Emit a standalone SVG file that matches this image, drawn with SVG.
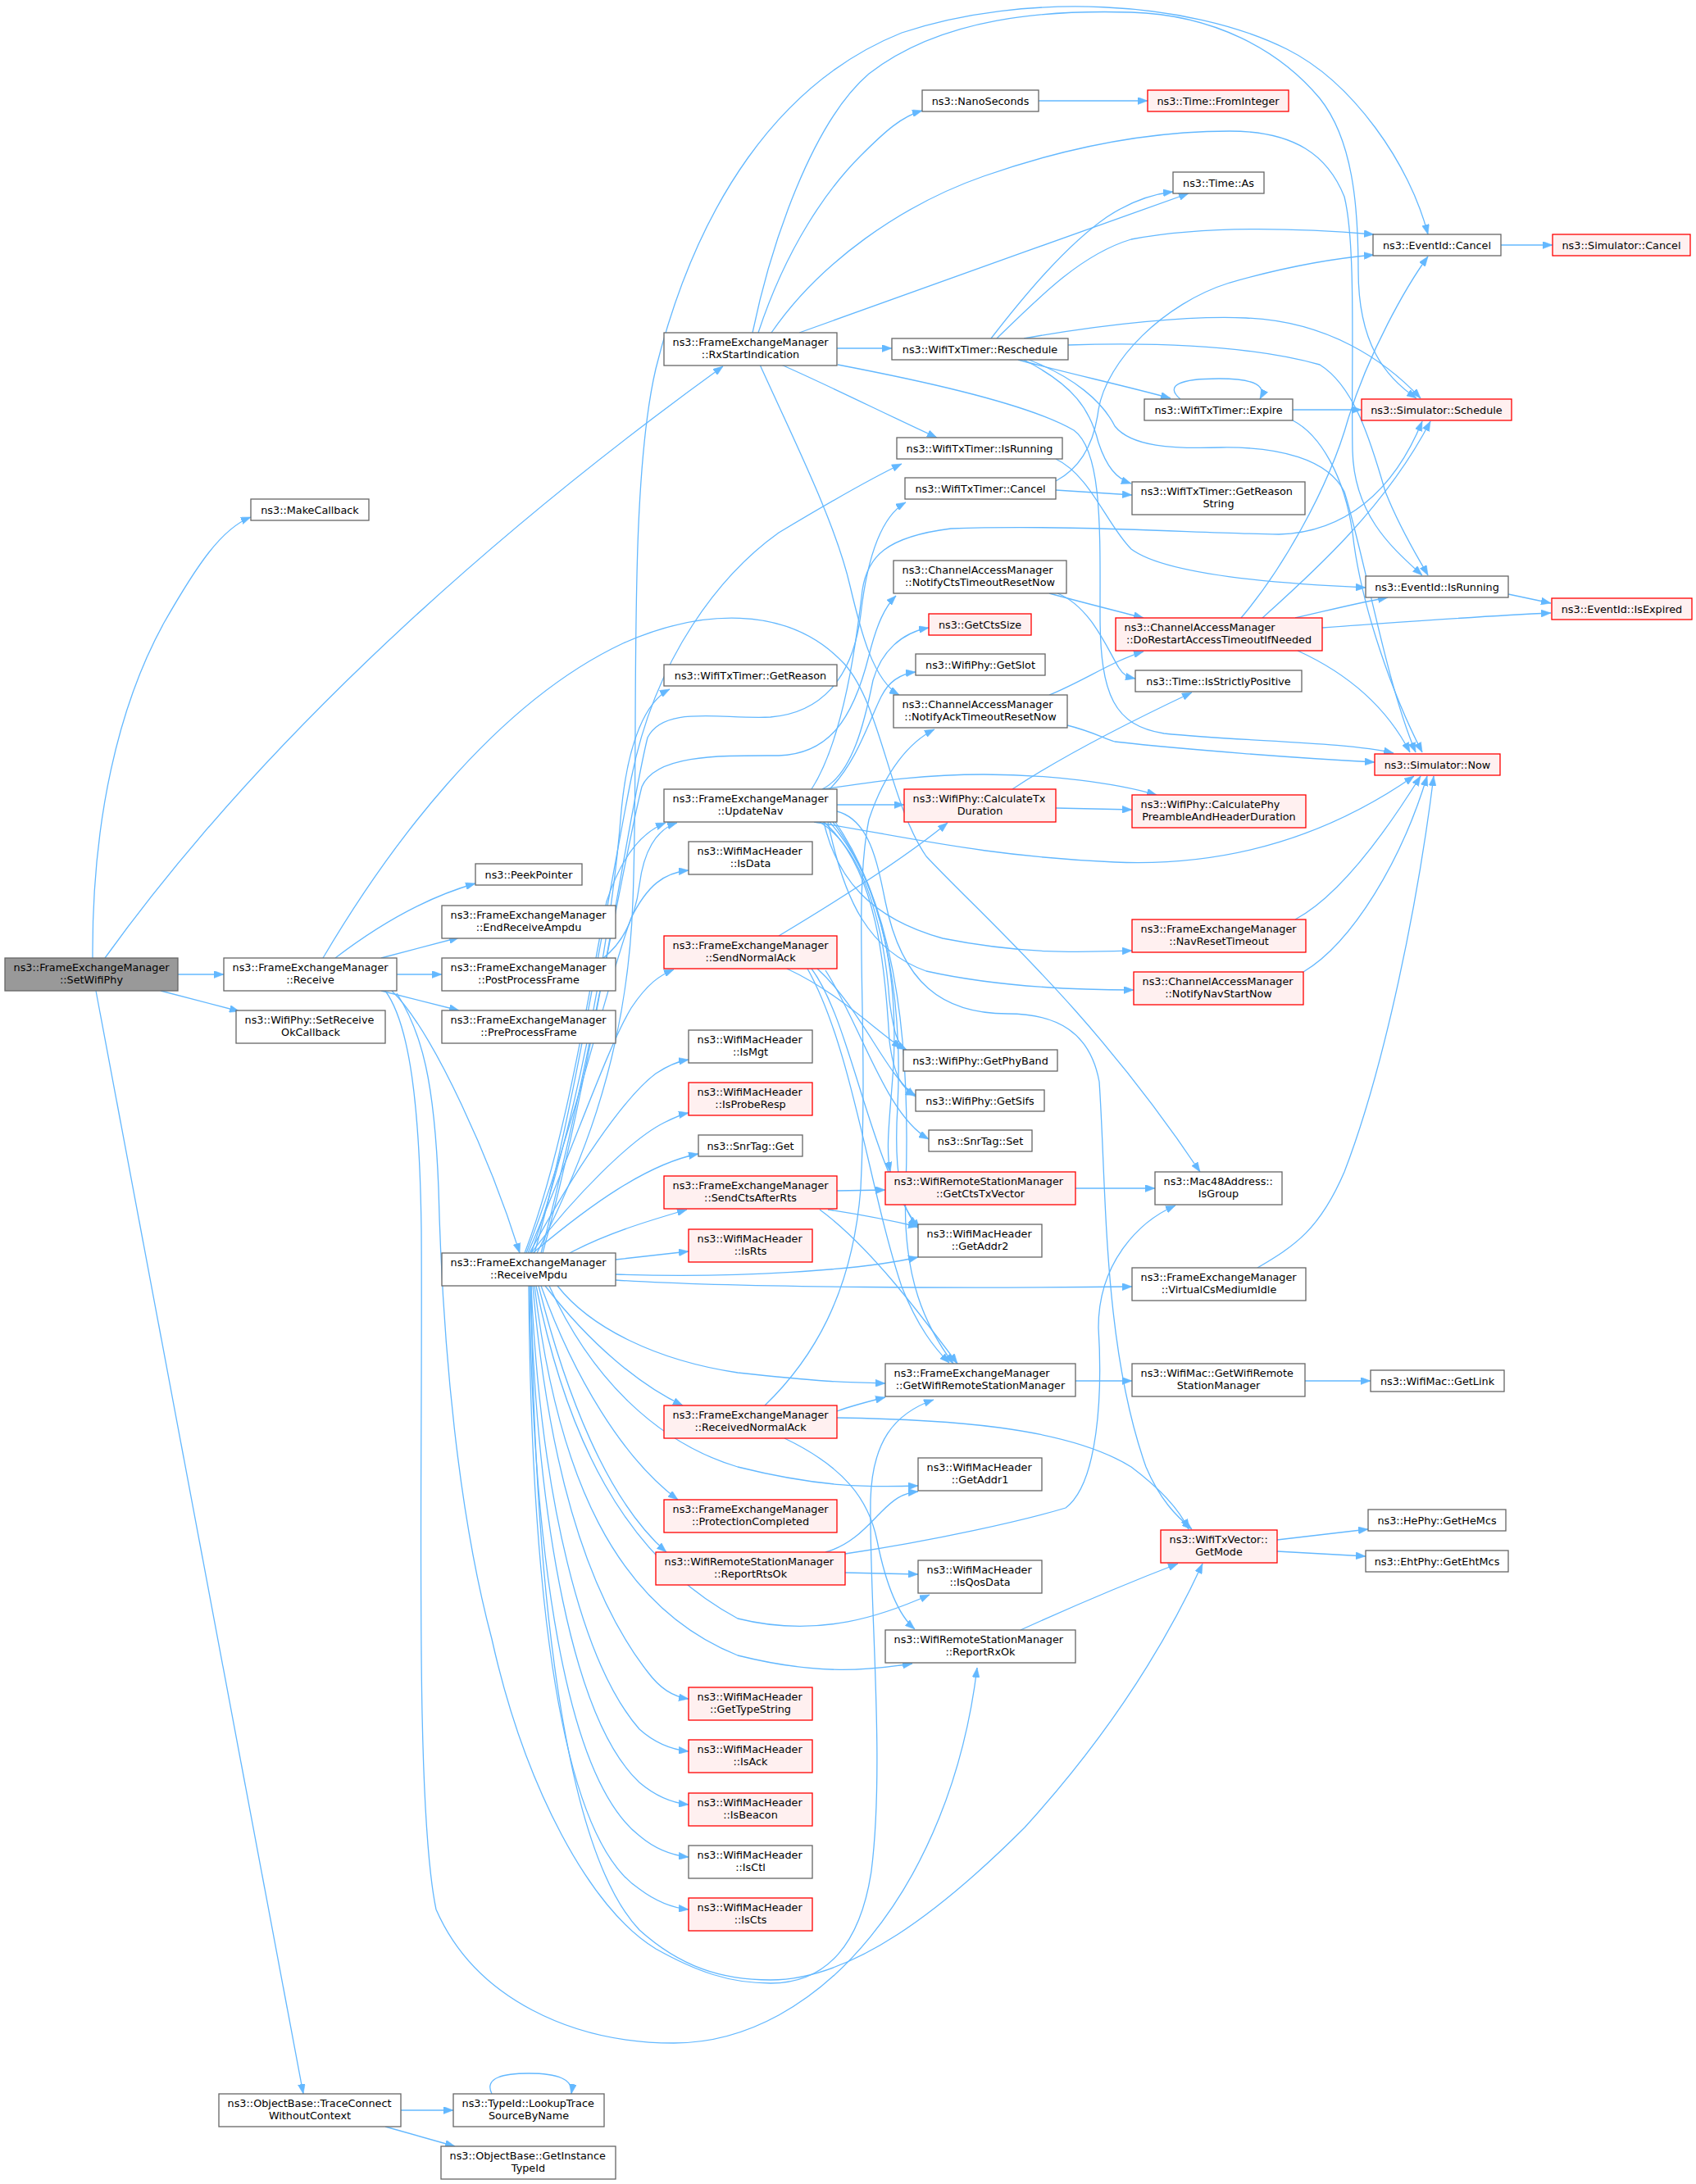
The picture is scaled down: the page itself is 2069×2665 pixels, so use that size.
<svg xmlns="http://www.w3.org/2000/svg" width="2069" height="2665" viewBox="0 0 2069 2665">
<defs>
<style>
.node rect{fill:#ffffff;stroke:#666666;stroke-width:1.3}
.red rect{fill:#FFF0F0;stroke:#FF0000}
.root rect{fill:#999999;stroke:#666666}
.node text{font-family:"DejaVu Sans","Liberation Sans",sans-serif;font-size:12.8px;fill:#000000}
.s{text-anchor:start}
.m{text-anchor:middle}
#edges path{fill:none;stroke:#63B8FF;stroke-width:1.3;marker-end:url(#arr)}
</style>
<marker id="arr" viewBox="0 0 12 9" refX="12" refY="4.5" markerWidth="12" markerHeight="9" markerUnits="userSpaceOnUse" orient="auto">
<path d="M0,0 L12,4.5 L0,9 z" fill="#63B8FF" stroke="#63B8FF" stroke-width="0.5"/>
</marker>
</defs>
<rect x="0" y="0" width="2069" height="2665" fill="#ffffff"/>
<g id="edges">
<path d="M113,1169 C112,1000 145,860 200,760 C240,690 270,645 306,631"/>
<path d="M128,1169 C300,930 560,680 882,447"/>
<path d="M217,1189 L273,1189"/>
<path d="M196,1209 L292,1234"/>
<path d="M117,1209 L370,2555"/>
<path d="M409,1169 C460,1130 520,1095 580,1078"/>
<path d="M465,1169 L560,1144"/>
<path d="M484,1189 L539,1189"/>
<path d="M465,1209 L560,1233"/>
<path d="M478,1209 C530,1260 600,1420 634,1529"/>
<path d="M394,1169 C470,1040 600,860 760,785 C850,745 960,735 1030,810 C1075,860 1085,980 1130,1045 C1200,1120 1330,1230 1464,1430"/>
<path d="M470,1209 C500,1250 512,1350 514,1500 C516,1800 505,2200 532,2330 C580,2440 700,2493 822,2493 C1000,2493 1160,2300 1192,2035"/>
<path d="M484,1212 C515,1260 530,1320 535,1450 C540,1650 560,1850 600,2000 C640,2180 720,2330 800,2378 C850,2406 890,2420 940,2420 C1010,2420 1050,2370 1063,2283 C1080,2150 1060,1950 1062,1830 C1064,1760 1090,1725 1139,1708"/>
<path d="M648,1569 C652,1950 690,2260 780,2355 C830,2400 880,2416 940,2416 C1040,2416 1150,2330 1250,2230 C1350,2120 1420,2010 1467,1908"/>
<path d="M925,406 C960,300 1010,230 1050,190 C1080,160 1100,142 1125,135"/>
<path d="M918,406 C940,300 990,150 1060,90 C1150,20 1280,12 1380,15 C1480,18 1560,60 1610,120 C1650,170 1657,250 1657,330 C1657,420 1690,460 1728,486"/>
<path d="M941,406 C1000,320 1100,250 1200,215 C1300,180 1400,160 1500,160 C1580,160 1620,190 1640,240 C1655,300 1648,450 1650,550 C1652,630 1700,670 1735,702"/>
<path d="M975,406 C1100,360 1300,290 1450,236"/>
<path d="M1021,425 L1088,425"/>
<path d="M953,445 C1010,470 1080,505 1143,534"/>
<path d="M927,445 C970,540 1020,640 1037,715 C1050,770 1065,830 1097,848"/>
<path d="M1022,445 C1100,460 1250,490 1310,525 C1345,550 1342,650 1342,750 C1342,850 1360,885 1420,895 C1520,905 1640,905 1700,919"/>
<path d="M1209,413 C1250,360 1300,300 1350,265 C1380,245 1405,237 1431,234"/>
<path d="M1216,413 C1270,360 1320,310 1380,292 C1470,275 1580,278 1676,286"/>
<path d="M1249,413 C1350,395 1450,385 1520,388 C1620,392 1690,440 1733,486"/>
<path d="M1303,421 C1400,418 1520,420 1610,445 C1650,470 1670,530 1690,600 C1710,650 1730,680 1742,702"/>
<path d="M1242,439 C1300,455 1370,470 1428,486"/>
<path d="M1249,439 C1310,470 1330,500 1340,540 C1350,570 1362,584 1380,590"/>
<path d="M1255,439 C1310,460 1345,490 1360,520 C1380,545 1430,548 1490,546 C1560,545 1620,560 1640,600 C1665,680 1690,830 1727,918"/>
<path d="M1440,487 C1420,470 1440,462 1487,462 C1534,462 1545,472 1537,487"/>
<path d="M1577,500 L1661,500"/>
<path d="M1577,513 C1610,530 1640,580 1650,650 C1660,740 1700,850 1735,918"/>
<path d="M1831,299 L1894,299"/>
<path d="M1840,725 L1892,736"/>
<path d="M1267,123 L1400,123"/>
<path d="M1288,560 C1330,580 1350,640 1380,670 C1420,700 1550,712 1666,717"/>
<path d="M1288,598 L1381,604"/>
<path d="M1288,587 C1320,570 1335,540 1340,500 C1350,440 1420,370 1500,345 C1570,325 1630,315 1676,311"/>
<path d="M1280,724 C1320,735 1360,745 1395,754"/>
<path d="M1290,724 C1330,740 1350,790 1365,815 C1370,823 1375,826 1385,828"/>
<path d="M1280,848 C1320,832 1360,805 1395,795"/>
<path d="M1302,885 C1330,892 1345,900 1360,905 C1450,915 1580,925 1677,930"/>
<path d="M1514,754 C1560,700 1620,600 1645,510 C1670,430 1715,350 1742,313"/>
<path d="M1540,754 C1600,700 1690,620 1745,514"/>
<path d="M1580,754 C1620,745 1650,737 1693,729"/>
<path d="M1613,766 C1700,760 1800,752 1892,748"/>
<path d="M1583,794 C1640,820 1690,860 1720,918"/>
<path d="M1235,963 C1300,920 1380,880 1454,845"/>
<path d="M1288,986 L1381,988"/>
<path d="M1021,982 L1103,982"/>
<path d="M1003,963 C1060,955 1120,945 1200,945 C1280,945 1360,955 1411,970"/>
<path d="M993,1003 C1100,1020 1200,1045 1360,1052 C1500,1058 1620,1020 1725,947"/>
<path d="M1005,1003 C1020,1070 1060,1120 1150,1145 C1250,1165 1320,1162 1381,1160"/>
<path d="M1010,1003 C1030,1100 1060,1160 1130,1185 C1220,1205 1320,1208 1383,1208"/>
<path d="M1003,963 C1040,945 1055,880 1065,830 C1075,795 1100,772 1133,766"/>
<path d="M1012,963 C1045,930 1060,880 1075,850 C1085,830 1100,822 1117,820"/>
<path d="M990,963 C1030,900 1045,780 1052,720 C1058,680 1080,655 1160,645 C1300,640 1450,650 1560,652 C1640,650 1700,600 1735,514"/>
<path d="M1000,1003 C1060,1040 1080,1150 1085,1220 C1090,1260 1095,1275 1106,1281"/>
<path d="M1005,1003 C1070,1060 1080,1180 1085,1270 C1090,1310 1100,1330 1117,1336"/>
<path d="M1012,1003 C1080,1080 1095,1200 1090,1300 C1086,1360 1080,1400 1086,1430"/>
<path d="M1016,1003 C1090,1100 1100,1250 1095,1350 C1090,1430 1100,1480 1120,1496"/>
<path d="M1019,1003 C1100,1120 1110,1300 1105,1450 C1100,1560 1130,1620 1163,1664"/>
<path d="M1021,990 C1060,1000 1070,1050 1080,1100 C1100,1200 1150,1237 1229,1237 C1290,1237 1330,1260 1341,1320 C1350,1450 1345,1640 1398,1790 C1415,1830 1435,1850 1454,1866"/>
<path d="M655,1529 C700,1440 765,1300 772,1100 C780,900 765,600 800,450 C850,250 950,100 1100,40 C1250,-10 1450,0 1570,60 C1650,100 1720,200 1742,286"/>
<path d="M648,1529 C700,1380 745,1150 757,1000 C765,900 790,855 817,841"/>
<path d="M652,1529 C700,1360 740,1100 770,950 C800,800 880,700 950,650 C1000,620 1060,585 1100,566"/>
<path d="M660,1529 C720,1300 760,1050 783,960 C800,920 880,922 950,922 C1010,920 1040,880 1060,800 C1070,760 1080,740 1093,727"/>
<path d="M662,1529 C725,1300 765,1000 790,900 C810,860 880,878 940,875 C1000,870 1040,830 1050,750 C1058,680 1075,630 1105,613"/>
<path d="M640,1529 C690,1400 720,1200 740,1100 C760,1040 785,1015 812,1004"/>
<path d="M736,1169 C760,1150 775,1120 780,1080 C785,1040 800,1012 826,1004"/>
<path d="M642,1529 C700,1380 740,1200 770,1120 C790,1080 810,1065 840,1062"/>
<path d="M644,1529 C700,1400 740,1280 770,1230 C790,1200 805,1190 822,1183"/>
<path d="M646,1529 C700,1430 760,1340 800,1310 C815,1300 828,1295 840,1293"/>
<path d="M648,1529 C700,1460 770,1390 810,1370 C820,1365 830,1360 840,1358"/>
<path d="M650,1529 C720,1470 790,1420 852,1408"/>
<path d="M695,1529 C740,1505 790,1490 838,1476"/>
<path d="M751,1537 L840,1527"/>
<path d="M751,1555 C900,1560 1050,1550 1120,1534"/>
<path d="M751,1562 C900,1572 1200,1572 1381,1570"/>
<path d="M680,1569 C720,1620 800,1660 900,1675 C1000,1686 1030,1687 1080,1688"/>
<path d="M665,1569 C720,1640 780,1690 833,1715"/>
<path d="M660,1569 C700,1680 760,1780 827,1830"/>
<path d="M657,1569 C690,1700 740,1830 813,1894"/>
<path d="M670,1569 C720,1680 800,1760 900,1790 C1000,1815 1060,1815 1120,1813"/>
<path d="M654,1569 C690,1750 760,1900 900,1975 C1000,2000 1080,1970 1134,1946"/>
<path d="M652,1569 C680,1800 750,1960 900,2020 C1000,2045 1060,2038 1113,2030"/>
<path d="M650,1569 C670,1800 720,1950 790,2040 C805,2060 820,2070 840,2073"/>
<path d="M648,1569 C660,1830 710,2030 780,2110 C800,2128 820,2135 840,2137"/>
<path d="M647,1569 C655,1860 700,2100 780,2175 C800,2192 820,2200 840,2202"/>
<path d="M646,1569 C650,1900 690,2170 780,2240 C800,2257 820,2264 840,2266"/>
<path d="M645,1569 C648,1930 680,2240 780,2305 C800,2320 820,2328 840,2330"/>
<path d="M950,1142 C1020,1100 1100,1050 1156,1004"/>
<path d="M960,1182 C1020,1210 1060,1250 1100,1279"/>
<path d="M997,1182 C1050,1230 1080,1310 1117,1338"/>
<path d="M1007,1184 C1050,1250 1080,1360 1133,1390"/>
<path d="M990,1182 C1040,1250 1060,1420 1122,1500"/>
<path d="M985,1182 C1040,1280 1060,1450 1100,1570 C1120,1620 1140,1645 1158,1663"/>
<path d="M1021,1453 L1080,1452"/>
<path d="M1010,1476 C1050,1482 1090,1490 1120,1497"/>
<path d="M1000,1476 C1060,1520 1120,1600 1168,1664"/>
<path d="M933,1715 C990,1660 1040,1580 1050,1450 C1060,1250 1040,1100 1060,1000 C1080,940 1110,905 1140,890"/>
<path d="M1021,1722 C1040,1715 1060,1710 1080,1705"/>
<path d="M1021,1730 C1150,1732 1300,1740 1380,1790 C1420,1820 1440,1845 1450,1866"/>
<path d="M957,1755 C1030,1790 1060,1830 1070,1880 C1080,1930 1095,1970 1116,1988"/>
<path d="M1007,1894 C1040,1885 1060,1860 1075,1845 C1090,1830 1100,1822 1120,1820"/>
<path d="M1031,1919 L1120,1921"/>
<path d="M1031,1896 C1140,1880 1250,1855 1300,1840 C1340,1810 1345,1700 1340,1620 C1340,1540 1390,1490 1434,1471"/>
<path d="M1312,1450 L1409,1450"/>
<path d="M1312,1685 L1381,1685"/>
<path d="M1592,1685 L1672,1685"/>
<path d="M1558,1879 L1669,1866"/>
<path d="M1558,1893 L1666,1899"/>
<path d="M1245,1989 C1320,1955 1380,1930 1437,1908"/>
<path d="M1534,1547 C1580,1520 1610,1500 1640,1430 C1690,1300 1730,1100 1749,947"/>
<path d="M1580,1122 C1640,1090 1700,1000 1733,947"/>
<path d="M1590,1186 C1650,1150 1710,1050 1741,947"/>
<path d="M489,2575 L553,2575"/>
<path d="M470,2595 L555,2619"/>
<path d="M600,2555 C590,2535 615,2530 645,2530 C680,2530 700,2537 697,2555"/>
</g>
<g id="n_setwifiphy" class="node root"><rect x="6" y="1169" width="211" height="40"/><text class="s" x="16.6" y="1185">ns3::FrameExchangeManager</text><text class="m" x="111.5" y="1200">::SetWifiPhy</text></g>
<g id="n_makecallback" class="node"><rect x="306" y="609" width="144" height="26"/><text class="m" x="378" y="626.5">ns3::MakeCallback</text></g>
<g id="n_receive" class="node"><rect x="273" y="1169" width="211" height="40"/><text class="s" x="283.6" y="1185">ns3::FrameExchangeManager</text><text class="m" x="378.5" y="1200">::Receive</text></g>
<g id="n_setreceiveok" class="node"><rect x="288" y="1233" width="182" height="40"/><text class="s" x="298.6" y="1249">ns3::WifiPhy::SetReceive</text><text class="m" x="379" y="1264">OkCallback</text></g>
<g id="n_traceconnect" class="node"><rect x="267" y="2555" width="222" height="40"/><text class="s" x="277.6" y="2571">ns3::ObjectBase::TraceConnect</text><text class="m" x="378" y="2586">WithoutContext</text></g>
<g id="n_peekpointer" class="node"><rect x="580" y="1054" width="130" height="26"/><text class="m" x="645" y="1071.5">ns3::PeekPointer</text></g>
<g id="n_endreceiveampdu" class="node"><rect x="539" y="1105" width="212" height="40"/><text class="s" x="549.6" y="1121">ns3::FrameExchangeManager</text><text class="m" x="645" y="1136">::EndReceiveAmpdu</text></g>
<g id="n_postprocessframe" class="node"><rect x="539" y="1169" width="212" height="40"/><text class="s" x="549.6" y="1185">ns3::FrameExchangeManager</text><text class="m" x="645" y="1200">::PostProcessFrame</text></g>
<g id="n_preprocessframe" class="node"><rect x="539" y="1233" width="212" height="40"/><text class="s" x="549.6" y="1249">ns3::FrameExchangeManager</text><text class="m" x="645" y="1264">::PreProcessFrame</text></g>
<g id="n_receivempdu" class="node"><rect x="539" y="1529" width="212" height="40"/><text class="s" x="549.6" y="1545">ns3::FrameExchangeManager</text><text class="m" x="645" y="1560">::ReceiveMpdu</text></g>
<g id="n_lookuptrace" class="node"><rect x="553" y="2555" width="184" height="40"/><text class="s" x="563.6" y="2571">ns3::TypeId::LookupTrace</text><text class="m" x="645" y="2586">SourceByName</text></g>
<g id="n_getinstancetypeid" class="node"><rect x="538" y="2619" width="213" height="40"/><text class="s" x="548.6" y="2635">ns3::ObjectBase::GetInstance</text><text class="m" x="644.5" y="2650">TypeId</text></g>
<g id="n_rxstartindication" class="node"><rect x="810" y="406" width="211" height="40"/><text class="s" x="820.6" y="422">ns3::FrameExchangeManager</text><text class="m" x="915.5" y="437">::RxStartIndication</text></g>
<g id="n_getreason" class="node"><rect x="810" y="811" width="211" height="26"/><text class="m" x="915.5" y="828.5">ns3::WifiTxTimer::GetReason</text></g>
<g id="n_updatenav" class="node"><rect x="810" y="963" width="211" height="40"/><text class="s" x="820.6" y="979">ns3::FrameExchangeManager</text><text class="m" x="915.5" y="994">::UpdateNav</text></g>
<g id="n_isdata" class="node"><rect x="840" y="1027" width="151" height="40"/><text class="s" x="850.6" y="1043">ns3::WifiMacHeader</text><text class="m" x="915.5" y="1058">::IsData</text></g>
<g id="n_sendnormalack" class="node red"><rect x="810" y="1142" width="211" height="40"/><text class="s" x="820.6" y="1158">ns3::FrameExchangeManager</text><text class="m" x="915.5" y="1173">::SendNormalAck</text></g>
<g id="n_ismgt" class="node"><rect x="840" y="1257" width="151" height="40"/><text class="s" x="850.6" y="1273">ns3::WifiMacHeader</text><text class="m" x="915.5" y="1288">::IsMgt</text></g>
<g id="n_isproberesp" class="node red"><rect x="840" y="1321" width="151" height="40"/><text class="s" x="850.6" y="1337">ns3::WifiMacHeader</text><text class="m" x="915.5" y="1352">::IsProbeResp</text></g>
<g id="n_snrtagget" class="node"><rect x="852" y="1385" width="127" height="26"/><text class="m" x="915.5" y="1402.5">ns3::SnrTag::Get</text></g>
<g id="n_sendctsafterrts" class="node red"><rect x="810" y="1435" width="211" height="40"/><text class="s" x="820.6" y="1451">ns3::FrameExchangeManager</text><text class="m" x="915.5" y="1466">::SendCtsAfterRts</text></g>
<g id="n_isrts" class="node red"><rect x="840" y="1500" width="151" height="40"/><text class="s" x="850.6" y="1516">ns3::WifiMacHeader</text><text class="m" x="915.5" y="1531">::IsRts</text></g>
<g id="n_receivednormalack" class="node red"><rect x="810" y="1715" width="211" height="40"/><text class="s" x="820.6" y="1731">ns3::FrameExchangeManager</text><text class="m" x="915.5" y="1746">::ReceivedNormalAck</text></g>
<g id="n_protectioncompleted" class="node red"><rect x="810" y="1830" width="211" height="40"/><text class="s" x="820.6" y="1846">ns3::FrameExchangeManager</text><text class="m" x="915.5" y="1861">::ProtectionCompleted</text></g>
<g id="n_reportrtsok" class="node red"><rect x="800" y="1894" width="231" height="40"/><text class="s" x="810.6" y="1910">ns3::WifiRemoteStationManager</text><text class="m" x="915.5" y="1925">::ReportRtsOk</text></g>
<g id="n_gettypestring" class="node red"><rect x="840" y="2059" width="151" height="40"/><text class="s" x="850.6" y="2075">ns3::WifiMacHeader</text><text class="m" x="915.5" y="2090">::GetTypeString</text></g>
<g id="n_isack" class="node red"><rect x="840" y="2123" width="151" height="40"/><text class="s" x="850.6" y="2139">ns3::WifiMacHeader</text><text class="m" x="915.5" y="2154">::IsAck</text></g>
<g id="n_isbeacon" class="node red"><rect x="840" y="2188" width="151" height="40"/><text class="s" x="850.6" y="2204">ns3::WifiMacHeader</text><text class="m" x="915.5" y="2219">::IsBeacon</text></g>
<g id="n_isctl" class="node"><rect x="840" y="2252" width="151" height="40"/><text class="s" x="850.6" y="2268">ns3::WifiMacHeader</text><text class="m" x="915.5" y="2283">::IsCtl</text></g>
<g id="n_iscts" class="node red"><rect x="840" y="2316" width="151" height="40"/><text class="s" x="850.6" y="2332">ns3::WifiMacHeader</text><text class="m" x="915.5" y="2347">::IsCts</text></g>
<g id="n_nanoseconds" class="node"><rect x="1125" y="110" width="142" height="26"/><text class="m" x="1196" y="127.5">ns3::NanoSeconds</text></g>
<g id="n_reschedule" class="node"><rect x="1088" y="413" width="215" height="26"/><text class="m" x="1195.5" y="430.5">ns3::WifiTxTimer::Reschedule</text></g>
<g id="n_timerisrunning" class="node"><rect x="1094" y="534" width="202" height="26"/><text class="m" x="1195" y="551.5">ns3::WifiTxTimer::IsRunning</text></g>
<g id="n_timercancel" class="node"><rect x="1104" y="583" width="184" height="26"/><text class="m" x="1196" y="600.5">ns3::WifiTxTimer::Cancel</text></g>
<g id="n_notifycts" class="node"><rect x="1090" y="684" width="211" height="40"/><text class="s" x="1100.6" y="700">ns3::ChannelAccessManager</text><text class="m" x="1195.5" y="715">::NotifyCtsTimeoutResetNow</text></g>
<g id="n_getctssize" class="node red"><rect x="1133" y="749" width="125" height="26"/><text class="m" x="1195.5" y="766.5">ns3::GetCtsSize</text></g>
<g id="n_getslot" class="node"><rect x="1117" y="798" width="158" height="26"/><text class="m" x="1196" y="815.5">ns3::WifiPhy::GetSlot</text></g>
<g id="n_notifyack" class="node"><rect x="1090" y="848" width="212" height="40"/><text class="s" x="1100.6" y="864">ns3::ChannelAccessManager</text><text class="m" x="1196" y="879">::NotifyAckTimeoutResetNow</text></g>
<g id="n_calctxduration" class="node red"><rect x="1103" y="963" width="185" height="40"/><text class="s" x="1113.6" y="979">ns3::WifiPhy::CalculateTx</text><text class="m" x="1195.5" y="994">Duration</text></g>
<g id="n_getphyband" class="node"><rect x="1102" y="1281" width="188" height="26"/><text class="m" x="1196" y="1298.5">ns3::WifiPhy::GetPhyBand</text></g>
<g id="n_getsifs" class="node"><rect x="1117" y="1330" width="157" height="26"/><text class="m" x="1195.5" y="1347.5">ns3::WifiPhy::GetSifs</text></g>
<g id="n_snrtagset" class="node"><rect x="1133" y="1379" width="126" height="26"/><text class="m" x="1196" y="1396.5">ns3::SnrTag::Set</text></g>
<g id="n_getctstxvector" class="node red"><rect x="1080" y="1430" width="232" height="40"/><text class="s" x="1090.6" y="1446">ns3::WifiRemoteStationManager</text><text class="m" x="1196" y="1461">::GetCtsTxVector</text></g>
<g id="n_getaddr2" class="node"><rect x="1120" y="1494" width="151" height="40"/><text class="s" x="1130.6" y="1510">ns3::WifiMacHeader</text><text class="m" x="1195.5" y="1525">::GetAddr2</text></g>
<g id="n_getwifirsm" class="node"><rect x="1080" y="1664" width="232" height="40"/><text class="s" x="1090.6" y="1680">ns3::FrameExchangeManager</text><text class="m" x="1196" y="1695">::GetWifiRemoteStationManager</text></g>
<g id="n_getaddr1" class="node"><rect x="1120" y="1779" width="151" height="40"/><text class="s" x="1130.6" y="1795">ns3::WifiMacHeader</text><text class="m" x="1195.5" y="1810">::GetAddr1</text></g>
<g id="n_isqosdata" class="node"><rect x="1120" y="1904" width="151" height="40"/><text class="s" x="1130.6" y="1920">ns3::WifiMacHeader</text><text class="m" x="1195.5" y="1935">::IsQosData</text></g>
<g id="n_reportrxok" class="node"><rect x="1080" y="1989" width="232" height="40"/><text class="s" x="1090.6" y="2005">ns3::WifiRemoteStationManager</text><text class="m" x="1196" y="2020">::ReportRxOk</text></g>
<g id="n_frominteger" class="node red"><rect x="1400" y="110" width="172" height="26"/><text class="m" x="1486" y="127.5">ns3::Time::FromInteger</text></g>
<g id="n_timeas" class="node"><rect x="1431" y="210" width="111" height="26"/><text class="m" x="1486.5" y="227.5">ns3::Time::As</text></g>
<g id="n_expire" class="node"><rect x="1396" y="487" width="181" height="26"/><text class="m" x="1486.5" y="504.5">ns3::WifiTxTimer::Expire</text></g>
<g id="n_getreasonstring" class="node"><rect x="1381" y="588" width="211" height="40"/><text class="s" x="1391.6" y="604">ns3::WifiTxTimer::GetReason</text><text class="m" x="1486.5" y="619">String</text></g>
<g id="n_dorestart" class="node red"><rect x="1361" y="754" width="252" height="40"/><text class="s" x="1371.6" y="770">ns3::ChannelAccessManager</text><text class="m" x="1487" y="785">::DoRestartAccessTimeoutIfNeeded</text></g>
<g id="n_isstrictlypositive" class="node"><rect x="1385" y="818" width="203" height="26"/><text class="m" x="1486.5" y="835.5">ns3::Time::IsStrictlyPositive</text></g>
<g id="n_calcphy" class="node red"><rect x="1381" y="970" width="212" height="40"/><text class="s" x="1391.6" y="986">ns3::WifiPhy::CalculatePhy</text><text class="m" x="1487" y="1001">PreambleAndHeaderDuration</text></g>
<g id="n_navresettimeout" class="node red"><rect x="1381" y="1122" width="212" height="40"/><text class="s" x="1391.6" y="1138">ns3::FrameExchangeManager</text><text class="m" x="1487" y="1153">::NavResetTimeout</text></g>
<g id="n_notifynavstartnow" class="node red"><rect x="1383" y="1186" width="207" height="40"/><text class="s" x="1393.6" y="1202">ns3::ChannelAccessManager</text><text class="m" x="1486.5" y="1217">::NotifyNavStartNow</text></g>
<g id="n_isgroup" class="node"><rect x="1409" y="1430" width="155" height="40"/><text class="s" x="1419.6" y="1446">ns3::Mac48Address::</text><text class="m" x="1486.5" y="1461">IsGroup</text></g>
<g id="n_virtualcs" class="node"><rect x="1381" y="1547" width="212" height="40"/><text class="s" x="1391.6" y="1563">ns3::FrameExchangeManager</text><text class="m" x="1487" y="1578">::VirtualCsMediumIdle</text></g>
<g id="n_wifimacgetrsm" class="node"><rect x="1381" y="1664" width="211" height="40"/><text class="s" x="1391.6" y="1680">ns3::WifiMac::GetWifiRemote</text><text class="m" x="1486.5" y="1695">StationManager</text></g>
<g id="n_getmode" class="node red"><rect x="1416" y="1867" width="142" height="40"/><text class="s" x="1426.6" y="1883">ns3::WifiTxVector::</text><text class="m" x="1487" y="1898">GetMode</text></g>
<g id="n_eventcancel" class="node"><rect x="1675" y="286" width="156" height="26"/><text class="m" x="1753" y="303.5">ns3::EventId::Cancel</text></g>
<g id="n_schedule" class="node red"><rect x="1661" y="487" width="183" height="26"/><text class="m" x="1752.5" y="504.5">ns3::Simulator::Schedule</text></g>
<g id="n_eventisrunning" class="node"><rect x="1666" y="703" width="174" height="26"/><text class="m" x="1753" y="720.5">ns3::EventId::IsRunning</text></g>
<g id="n_now" class="node red"><rect x="1677" y="920" width="153" height="26"/><text class="m" x="1753.5" y="937.5">ns3::Simulator::Now</text></g>
<g id="n_getlink" class="node"><rect x="1672" y="1672" width="163" height="26"/><text class="m" x="1753.5" y="1689.5">ns3::WifiMac::GetLink</text></g>
<g id="n_gethemcs" class="node"><rect x="1669" y="1842" width="168" height="26"/><text class="m" x="1753" y="1859.5">ns3::HePhy::GetHeMcs</text></g>
<g id="n_getehtmcs" class="node"><rect x="1666" y="1892" width="174" height="26"/><text class="m" x="1753" y="1909.5">ns3::EhtPhy::GetEhtMcs</text></g>
<g id="n_simcancel" class="node red"><rect x="1894" y="286" width="168" height="26"/><text class="m" x="1978" y="303.5">ns3::Simulator::Cancel</text></g>
<g id="n_isexpired" class="node red"><rect x="1893" y="730" width="171" height="26"/><text class="m" x="1978.5" y="747.5">ns3::EventId::IsExpired</text></g>
</svg>
